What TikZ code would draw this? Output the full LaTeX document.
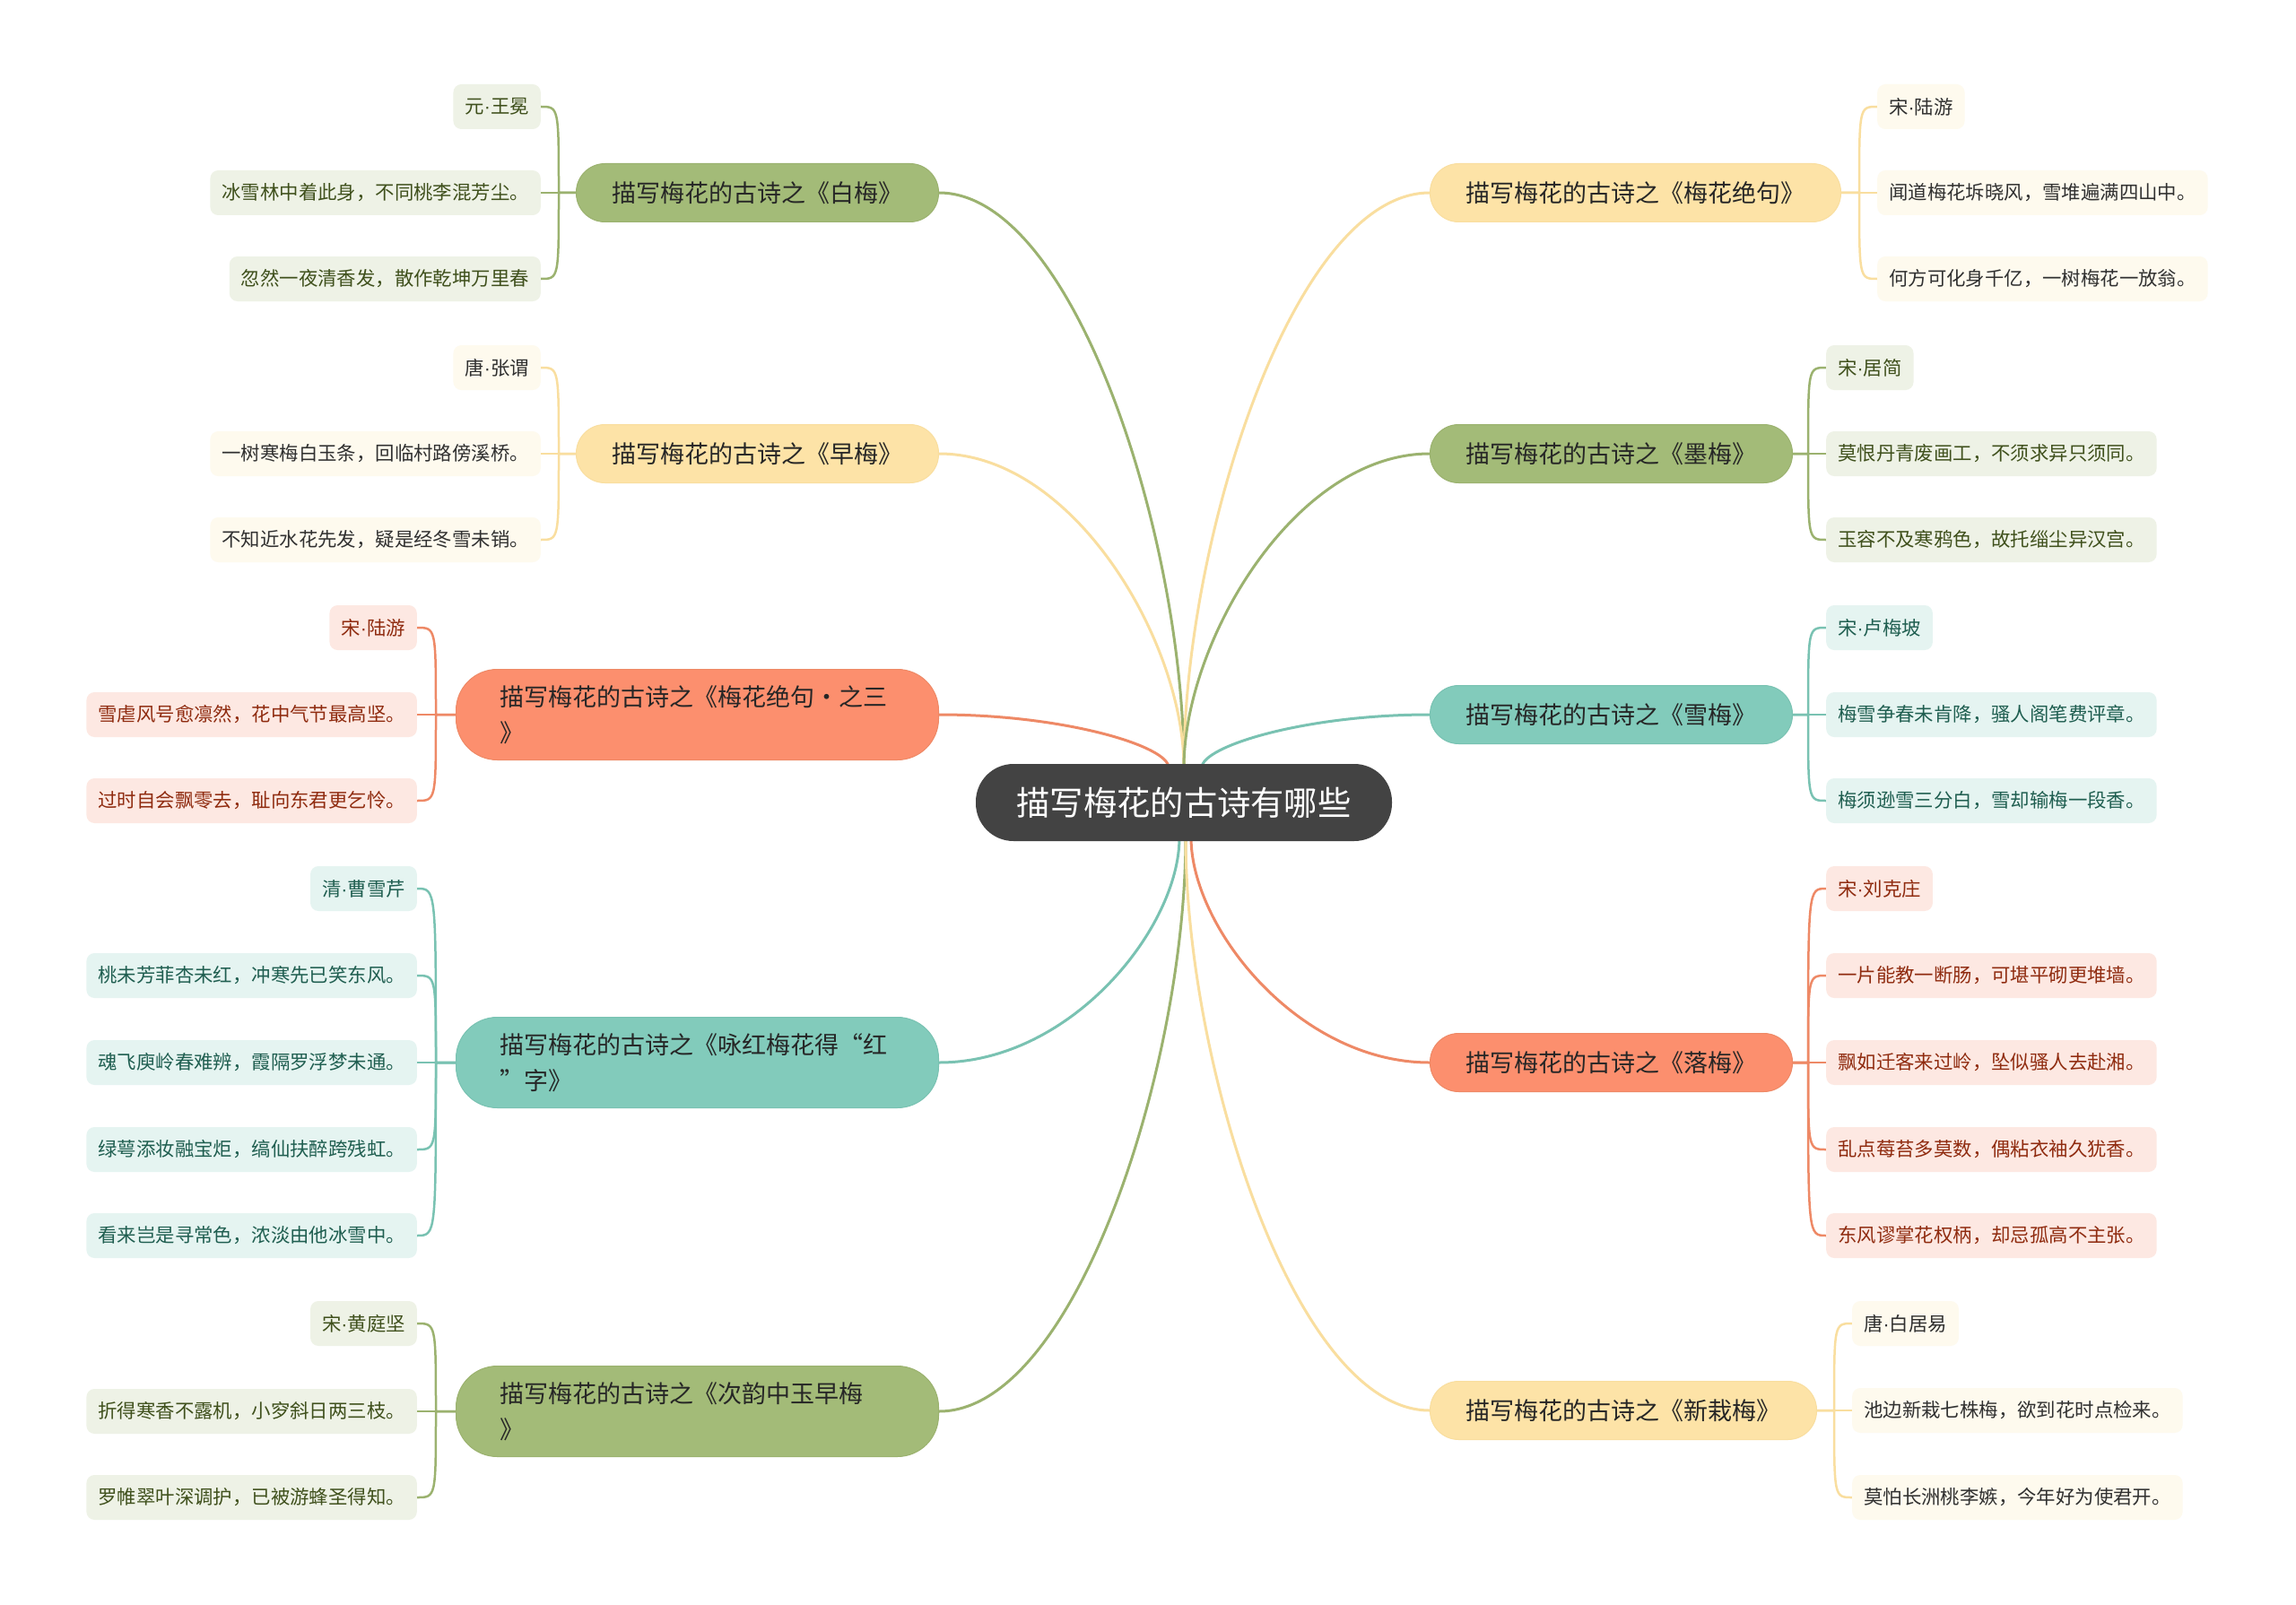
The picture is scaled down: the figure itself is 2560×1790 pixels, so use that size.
\documentclass[tikz,border=0pt]{standalone}
\usepackage{fontspec}
\setmainfont{Noto Sans CJK SC}
\newfontfamily\latdot{Liberation Sans}
\newcommand\dt{{\latdot ·}}
\usetikzlibrary{calc}
\pgfdeclarelayer{bg}
\pgfsetlayers{bg,main}
\definecolor{cenC}{HTML}{434343}
\definecolor{gN}{HTML}{A3BB78}
\definecolor{gL}{HTML}{9BB26F}
\definecolor{gF}{HTML}{EEF2E6}
\definecolor{gX}{HTML}{3F501C}
\definecolor{yN}{HTML}{FDE3A7}
\definecolor{yL}{HTML}{F9DE9F}
\definecolor{yF}{HTML}{FEFAEE}
\definecolor{yX}{HTML}{303030}
\definecolor{oN}{HTML}{FC8F6E}
\definecolor{oL}{HTML}{EE8966}
\definecolor{oF}{HTML}{FDE8E2}
\definecolor{oX}{HTML}{8F2B0F}
\definecolor{tN}{HTML}{82CBBB}
\definecolor{tL}{HTML}{79C2B2}
\definecolor{tF}{HTML}{E5F4F1}
\definecolor{tX}{HTML}{1F5E50}
\newcommand\lsub[4]{\draw[#4] (#1.west) -- (#2) .. controls (#2 |- #3.east) .. (#3.east);}
\newcommand\rsub[4]{\draw[#4] (#1.east) -- (#2) .. controls (#2 |- #3.west) .. (#3.west);}
\newcommand\lmain[3]{\draw[#3] (#1.east) .. controls ($(#1.east)!0.55!(#1.east -| #2)$) and ($(#2)!0.4!(#2 |- #1.east)$) .. (#2);}
\newcommand\rmain[3]{\draw[#3] (#1.west) .. controls ($(#1.west)!0.55!(#1.west -| #2)$) and ($(#2)!0.4!(#2 |- #1.west)$) .. (#2);}
\tikzset{
  topic/.style={rounded corners=32pt, minimum height=65pt, inner xsep=40pt, inner ysep=0pt,
    font=\fontsize{27pt}{40pt}\selectfont, text=black!85, line width=1pt},
  topictwo/.style={topic, rounded corners=46pt, minimum height=101pt, text width=440pt,
    align=left, inner xsep=49pt},
  leaf/.style={rounded corners=9pt, minimum height=50pt, inner xsep=13pt, inner ysep=0pt,
    font=\fontsize{21.4pt}{26pt}\selectfont},
  gtop/.style={fill=gN, draw=gL}, ytop/.style={fill=yN, draw=yL},
  otop/.style={fill=oN, draw=oL}, ttop/.style={fill=tN, draw=tL},
  gleaf/.style={leaf, fill=gF, text=gX}, yleaf/.style={leaf, fill=yF, text=yX},
  oleaf/.style={leaf, fill=oF, text=oX}, tleaf/.style={leaf, fill=tF, text=tX},
  gcon/.style={draw=gL, line width=3pt}, ycon/.style={draw=yL, line width=3pt},
  ocon/.style={draw=oL, line width=3pt}, tcon/.style={draw=tL, line width=3pt},
  gsub/.style={draw=gL, line width=2.5pt}, ysub/.style={draw=yL, line width=2.5pt},
  osub/.style={draw=oL, line width=2.5pt}, tsub/.style={draw=tL, line width=2.5pt},
}
\begin{document}
\begin{tikzpicture}[x=1pt, y=-1pt]
\useasboundingbox (0,0) rectangle (2560,1790);

% center
\node[fill=cenC, rounded corners=42pt, minimum width=464pt, minimum height=86pt, inner sep=0pt,
  text=white, font=\fontsize{37.3pt}{44pt}\selectfont] (c) at (1320,895) {描写梅花的古诗有哪些};
\coordinate (cT) at (1320,856);
\coordinate (cTo) at (1303,856);
\coordinate (cTt) at (1340,856);
\coordinate (cB) at (1322,934);
\coordinate (cBt) at (1315,934);
\coordinate (cBo) at (1328,934);

% level one, left
\node[topic, gtop, anchor=east] (L1) at (1047,215) {描写梅花的古诗之《白梅》};
\node[topic, ytop, anchor=east] (L2) at (1047,506) {描写梅花的古诗之《早梅》};
\node[topictwo, otop, anchor=east] (L3) at (1047,797) {描写梅花的古诗之《梅花绝句·之三\\》};
\node[topictwo, ttop, anchor=east] (L4) at (1047,1185) {描写梅花的古诗之《咏红梅花得“红\\”字》};
\node[topictwo, gtop, anchor=east] (L5) at (1047,1574) {描写梅花的古诗之《次韵中玉早梅\\》};

% level one, right
\node[topic, ytop, anchor=west] (R1) at (1594,215) {描写梅花的古诗之《梅花绝句》};
\node[topic, gtop, anchor=west] (R2) at (1594,506) {描写梅花的古诗之《墨梅》};
\node[topic, ttop, anchor=west] (R3) at (1594,797) {描写梅花的古诗之《雪梅》};
\node[topic, otop, anchor=west] (R4) at (1594,1185) {描写梅花的古诗之《落梅》};
\node[topic, ytop, anchor=west] (R5) at (1594,1573) {描写梅花的古诗之《新栽梅》};

% spine points
\coordinate (sL1) at (623,215);
\coordinate (sL2) at (623,506);
\coordinate (sL3) at (486,797);
\coordinate (sL4) at (486,1185);
\coordinate (sL5) at (486,1574);
\coordinate (sR1) at (2073,215);
\coordinate (sR2) at (2016,506);
\coordinate (sR3) at (2016,797);
\coordinate (sR4) at (2016,1185);
\coordinate (sR5) at (2045,1573);

% leaves left
\node[gleaf, anchor=east] (l1a) at (603,119) {元\dt 王冕};
\node[gleaf, anchor=east] (l1b) at (603,215) {冰雪林中着此身，不同桃李混芳尘。};
\node[gleaf, anchor=east] (l1c) at (603,311) {忽然一夜清香发，散作乾坤万里春};
\node[yleaf, anchor=east] (l2a) at (603,410) {唐\dt 张谓};
\node[yleaf, anchor=east] (l2b) at (603,506) {一树寒梅白玉条，回临村路傍溪桥。};
\node[yleaf, anchor=east] (l2c) at (603,602) {不知近水花先发，疑是经冬雪未销。};
\node[oleaf, anchor=east] (l3a) at (465,700) {宋\dt 陆游};
\node[oleaf, anchor=east] (l3b) at (465,797) {雪虐风号愈凛然，花中气节最高坚。};
\node[oleaf, anchor=east] (l3c) at (465,893) {过时自会飘零去，耻向东君更乞怜。};
\node[tleaf, anchor=east] (l4a) at (465,991) {清\dt 曹雪芹};
\node[tleaf, anchor=east] (l4b) at (465,1088) {桃未芳菲杏未红，冲寒先已笑东风。};
\node[tleaf, anchor=east] (l4c) at (465,1185) {魂飞庾岭春难辨，霞隔罗浮梦未通。};
\node[tleaf, anchor=east] (l4d) at (465,1282) {绿萼添妆融宝炬，缟仙扶醉跨残虹。};
\node[tleaf, anchor=east] (l4e) at (465,1378) {看来岂是寻常色，浓淡由他冰雪中。};
\node[gleaf, anchor=east] (l5a) at (465,1476) {宋\dt 黄庭坚};
\node[gleaf, anchor=east] (l5b) at (465,1574) {折得寒香不露机，小穸斜日两三枝。};
\node[gleaf, anchor=east] (l5c) at (465,1670) {罗帷翠叶深调护，已被游蜂圣得知。};

% leaves right
\node[yleaf, anchor=west] (r1a) at (2093,119) {宋\dt 陆游};
\node[yleaf, anchor=west] (r1b) at (2093,215) {闻道梅花坼晓风，雪堆遍满四山中。};
\node[yleaf, anchor=west] (r1c) at (2093,311) {何方可化身千亿，一树梅花一放翁。};
\node[gleaf, anchor=west] (r2a) at (2036,410) {宋\dt 居简};
\node[gleaf, anchor=west] (r2b) at (2036,506) {莫恨丹青废画工，不须求异只须同。};
\node[gleaf, anchor=west] (r2c) at (2036,602) {玉容不及寒鸦色，故托缁尘异汉宫。};
\node[tleaf, anchor=west] (r3a) at (2036,700) {宋\dt 卢梅坡};
\node[tleaf, anchor=west] (r3b) at (2036,797) {梅雪争春未肯降，骚人阁笔费评章。};
\node[tleaf, anchor=west] (r3c) at (2036,893) {梅须逊雪三分白，雪却输梅一段香。};
\node[oleaf, anchor=west] (r4a) at (2036,991) {宋\dt 刘克庄};
\node[oleaf, anchor=west] (r4b) at (2036,1088) {一片能教一断肠，可堪平砌更堆墙。};
\node[oleaf, anchor=west] (r4c) at (2036,1185) {飘如迁客来过岭，坠似骚人去赴湘。};
\node[oleaf, anchor=west] (r4d) at (2036,1282) {乱点莓苔多莫数，偶粘衣袖久犹香。};
\node[oleaf, anchor=west] (r4e) at (2036,1378) {东风谬掌花权柄，却忌孤高不主张。};
\node[yleaf, anchor=west] (r5a) at (2065,1476) {唐\dt 白居易};
\node[yleaf, anchor=west] (r5b) at (2065,1573) {池边新栽七株梅，欲到花时点检来。};
\node[yleaf, anchor=west] (r5c) at (2065,1670) {莫怕长洲桃李嫉，今年好为使君开。};

\begin{pgfonlayer}{bg}
  \fill[white] (0,0) rectangle (2560,1790);
  % main branches
  \lmain{L1}{cT}{gcon}
  \lmain{L2}{cT}{ycon}
  \lmain{L3}{cTo}{ocon}
  \lmain{L4}{cBt}{tcon}
  \lmain{L5}{cB}{gcon}
  \rmain{R1}{cT}{ycon}
  \rmain{R2}{cT}{gcon}
  \rmain{R3}{cTt}{tcon}
  \rmain{R4}{cBo}{ocon}
  \rmain{R5}{cB}{ycon}
  % sub branches left
  \lsub{L1}{sL1}{l1a}{gsub} \lsub{L1}{sL1}{l1b}{gsub} \lsub{L1}{sL1}{l1c}{gsub}
  \lsub{L2}{sL2}{l2a}{ysub} \lsub{L2}{sL2}{l2b}{ysub} \lsub{L2}{sL2}{l2c}{ysub}
  \lsub{L3}{sL3}{l3a}{osub} \lsub{L3}{sL3}{l3b}{osub} \lsub{L3}{sL3}{l3c}{osub}
  \lsub{L4}{sL4}{l4a}{tsub} \lsub{L4}{sL4}{l4b}{tsub} \lsub{L4}{sL4}{l4c}{tsub}
  \lsub{L4}{sL4}{l4d}{tsub} \lsub{L4}{sL4}{l4e}{tsub}
  \lsub{L5}{sL5}{l5a}{gsub} \lsub{L5}{sL5}{l5b}{gsub} \lsub{L5}{sL5}{l5c}{gsub}
  % sub branches right
  \rsub{R1}{sR1}{r1a}{ysub} \rsub{R1}{sR1}{r1b}{ysub} \rsub{R1}{sR1}{r1c}{ysub}
  \rsub{R2}{sR2}{r2a}{gsub} \rsub{R2}{sR2}{r2b}{gsub} \rsub{R2}{sR2}{r2c}{gsub}
  \rsub{R3}{sR3}{r3a}{tsub} \rsub{R3}{sR3}{r3b}{tsub} \rsub{R3}{sR3}{r3c}{tsub}
  \rsub{R4}{sR4}{r4a}{osub} \rsub{R4}{sR4}{r4b}{osub} \rsub{R4}{sR4}{r4c}{osub}
  \rsub{R4}{sR4}{r4d}{osub} \rsub{R4}{sR4}{r4e}{osub}
  \rsub{R5}{sR5}{r5a}{ysub} \rsub{R5}{sR5}{r5b}{ysub} \rsub{R5}{sR5}{r5c}{ysub}
\end{pgfonlayer}
\end{tikzpicture}
\end{document}
